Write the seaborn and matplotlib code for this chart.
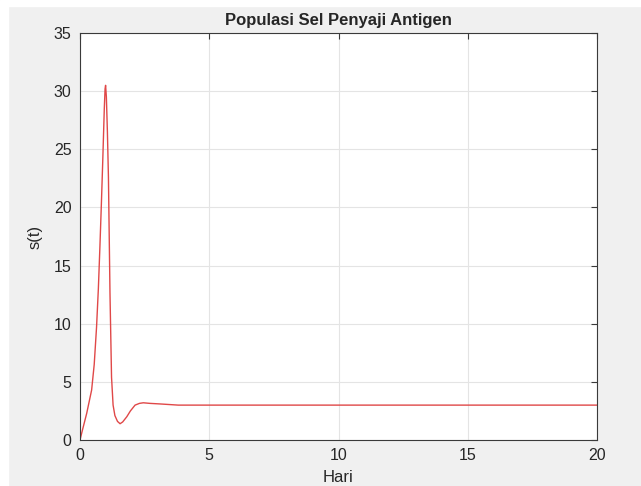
import numpy as np
import pandas as pd
import matplotlib
matplotlib.use("Agg")
import matplotlib.pyplot as plt
import seaborn as sns

# hand-read points from the curve
hari = [0.0, 0.1, 0.26, 0.45, 0.55, 0.64, 0.71, 0.77, 0.83, 0.88, 0.94, 0.97, 0.99,
        1.02, 1.06, 1.10, 1.16, 1.22, 1.28, 1.35, 1.45, 1.55, 1.65, 1.81, 1.95,
        2.13, 2.30, 2.45, 2.70, 3.10, 3.80, 5.0, 10.0, 15.0, 20.0]
s_t = [0.0, 0.9, 2.3, 4.3, 6.5, 9.7, 13.0, 16.6, 20.5, 24.0, 28.5, 30.2, 30.5,
       29.5, 26.5, 22.6, 12.6, 5.4, 3.0, 2.1, 1.6, 1.4, 1.55, 2.0, 2.5,
       3.0, 3.15, 3.2, 3.15, 3.1, 3.0, 3.0, 3.0, 3.0, 3.0]

x_ticks = [0, 5, 10, 15, 20]
y_ticks = [0, 5, 10, 15, 20, 25, 30, 35]

sns.set_style("whitegrid")
plt.rcParams['font.family'] = ['Liberation Sans', 'DejaVu Sans']

df = pd.DataFrame({"Hari": hari, "s(t)": s_t})

fig = plt.figure(figsize=(6.41, 4.86), dpi=100, facecolor="#f0f0f0")
ax = fig.add_axes([80/641, 1 - 440/486, (597-80)/641, (440-33)/486])
ax.set_facecolor("white")

sns.lineplot(data=df, x="Hari", y="s(t)", ax=ax, color="#e04848", linewidth=1.0)

ax.set_xlim(0, 20)
ax.set_ylim(0, 35)
ax.set_xticks(x_ticks)
ax.set_yticks(y_ticks)
ax.grid(True, color="#e4e4e4", linewidth=0.8)
for sp in ax.spines.values():
    sp.set_color("#3a3a3a")
    sp.set_linewidth(0.8)
ax.tick_params(direction="in", top=True, right=True, length=4, width=0.8,
               color="#3a3a3a", labelsize=11.5, labelcolor="#262626", pad=6)

ax.set_title("Populasi Sel Penyaji Antigen", fontsize=12, fontweight="bold", pad=6)
ax.set_xlabel("Hari", fontsize=12, color="#262626", labelpad=5)
ax.set_ylabel("s(t)", fontsize=12, color="#262626", labelpad=8)

# white screenshot border on left and top
fig.patches.append(plt.Rectangle((0, 0), 8/641, 1, transform=fig.transFigure,
                                 color="white", zorder=-1))
fig.patches.append(plt.Rectangle((0, 1 - 6/486), 1, 6/486, transform=fig.transFigure,
                                 color="white", zorder=-1))

fig.savefig("out.png", dpi=100, facecolor=fig.get_facecolor())
